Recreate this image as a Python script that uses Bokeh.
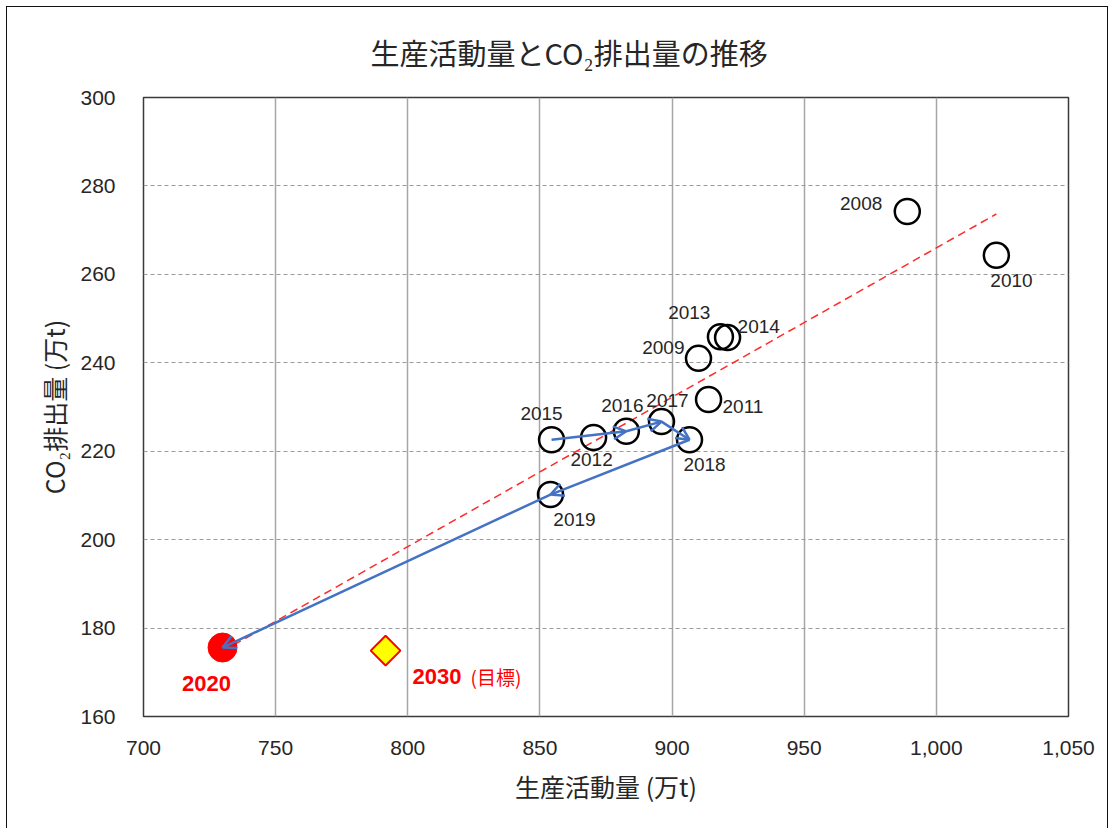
import numpy as np
from bokeh.plotting import figure
from bokeh.models import (ColumnDataSource, Arrow, OpenHead, FixedTicker,
                          NumeralTickFormatter, Range1d)
from bokeh.core.properties import value
from bokeh.embed import file_html
from bokeh.resources import INLINE

# --- data -------------------------------------------------------------
years = ["2008", "2009", "2010", "2011", "2012", "2013",
         "2014", "2015", "2016", "2017", "2018", "2019"]
production = [989.0, 910.0, 1022.7, 913.8, 870.3, 918.3,
              921.0, 854.4, 882.7, 896.0, 906.6, 854.0]       # 万t
emissions = [274.2, 241.0, 264.3, 231.7, 223.1, 245.9,
             245.7, 222.6, 224.5, 226.7, 222.6, 210.2]        # 万t

latest_year = "2020"
latest_production = 729.9
latest_emissions = 175.6

target_year = "2030"
target_note = "(目標)"
target_production = 791.6
target_emissions = 174.9

# sequence traced with arrows
arrow_years = ["2015", "2016", "2017", "2018", "2019", "2020"]

x_ticks = [700, 750, 800, 850, 900, 950, 1000, 1050]
y_ticks = [160, 180, 200, 220, 240, 260, 280, 300]

chart_title = "生産活動量とCO₂排出量の推移"

# --- styling ----------------------------------------------------------
CJK = "Noto Sans CJK JP"
NUM = "Liberation Sans"
TEXT = "#262626"

# label placement around each marker: (dx, dy, align), screen px
label_layout = {
    "2008": (-25, -8, "right"),
    "2009": (-14, -11, "right"),
    "2010": (-6, 25, "left"),
    "2011": (14, 7, "left"),
    "2012": (-2, 22, "center"),
    "2013": (-10, -24, "right"),
    "2014": (10, -11, "left"),
    "2015": (-10, -26, "center"),
    "2016": (-4, -26, "center"),
    "2017": (6, -21, "center"),
    "2018": (15, 25, "center"),
    "2019": (24, 25, "center"),
}

W, H = 1102, 822
OFF_X, OFF_Y = 7, 7
FRAME_L, FRAME_T, FRAME_R, FRAME_B = 143, 97, 1068, 716
p = figure(
    width=W, height=H,
    x_range=Range1d(x_ticks[0], x_ticks[-1]),
    y_range=Range1d(y_ticks[0], y_ticks[-1]),
    output_backend="svg", toolbar_location=None,
    min_border_left=FRAME_L - OFF_X, min_border_right=(W + OFF_X) - FRAME_R,
    min_border_top=FRAME_T - OFF_Y, min_border_bottom=(H + OFF_Y) - FRAME_B,
    background_fill_color="white", border_fill_color="white",
)
p.styles = {"margin-left": "6px", "margin-top": "6px",
            "border-left": "1px solid #111", "border-top": "1px solid #111",
            "border-right": "1px solid #111"}

# title
p.title.text = chart_title
p.title.align = "left"
p.title.offset = 370 - FRAME_L
p.title.vertical_align = "top"
p.title.text_baseline = "top"
p.title.standoff = 46
p.title.text_font = CJK
p.title.text_font_size = "29px"
p.title.text_font_style = "normal"
p.title.text_color = TEXT

# frame and grids
p.outline_line_color = "#3a3a3a"
p.outline_line_width = 1.5
p.xgrid.ticker = FixedTicker(ticks=x_ticks)
p.ygrid.ticker = FixedTicker(ticks=y_ticks)
p.xgrid.grid_line_color = "#a6a6a6"
p.xgrid.grid_line_width = 1.5
p.ygrid.grid_line_color = "#9a9a9a"
p.ygrid.grid_line_width = 1
p.ygrid.grid_line_dash = "4 3"

for ax in (p.xaxis[0], p.yaxis[0]):
    ax.axis_line_color = None
    ax.major_tick_line_color = None
    ax.minor_tick_line_color = None
    ax.major_label_text_font = NUM
    ax.major_label_text_font_size = "21px"
    ax.major_label_text_color = TEXT
    ax.axis_label_text_font = CJK
    ax.axis_label_text_font_size = "25px"
    ax.axis_label_text_font_style = "normal"
    ax.axis_label_text_color = TEXT

p.xaxis.ticker = FixedTicker(ticks=x_ticks)
p.yaxis.ticker = FixedTicker(ticks=y_ticks)
p.xaxis.formatter = NumeralTickFormatter(format="0,0")
p.xaxis.major_label_standoff = 18
p.yaxis.major_label_standoff = 22
p.xaxis.axis_label = "生産活動量 (万t)"
p.yaxis.axis_label = "CO₂排出量 (万t)"
p.xaxis.axis_label_standoff = 10
p.yaxis.axis_label_standoff = 5

# linear trend over all observed years (2008-2020)
all_x = np.array(production + [latest_production])
all_y = np.array(emissions + [latest_emissions])
slope, intercept = np.polyfit(all_x, all_y, 1)
tx = np.array([all_x.min(), all_x.max()])
p.line(tx, slope * tx + intercept, line_color="#ff2a2a",
       line_width=1.5, line_dash="8 5")

# yearly markers
src = ColumnDataSource(dict(
    x=production, y=emissions, year=years,
    dx=[label_layout[y][0] for y in years],
    dy=[label_layout[y][1] for y in years],
    align=[label_layout[y][2] for y in years],
))
p.scatter("x", "y", source=src, size=25, fill_color=None,
          line_color="black", line_width=2.5)
p.text("x", "y", text="year", source=src, x_offset="dx", y_offset="dy",
       text_align="align", text_baseline="middle",
       text_font=value(NUM), text_font_size="19px", text_color=TEXT)

# year-to-year arrows
lookup = dict(zip(years + [latest_year],
                  zip(production + [latest_production],
                      emissions + [latest_emissions])))
arr = ColumnDataSource(dict(
    x0=[lookup[a][0] for a in arrow_years[:-1]],
    y0=[lookup[a][1] for a in arrow_years[:-1]],
    x1=[lookup[a][0] for a in arrow_years[1:]],
    y1=[lookup[a][1] for a in arrow_years[1:]],
))
p.add_layout(Arrow(
    source=arr, x_start="x0", y_start="y0", x_end="x1", y_end="y1",
    line_color="#4472c4", line_width=2.5,
    end=OpenHead(size=13, line_color="#4472c4", line_width=2.5),
))

# 2020 actual
p.scatter([latest_production], [latest_emissions], size=29,
          fill_color="#ff0000", line_color="#ff0000")
p.text([latest_production], [latest_emissions], text=[latest_year],
       x_offset=-16, y_offset=36, text_align="center", text_baseline="middle",
       text_font=value(NUM), text_font_size="22px", text_font_style="bold",
       text_color="#ff0000")

# 2030 target
p.scatter([target_production], [target_emissions], marker="square",
          angle=np.pi / 4, size=21, fill_color="#ffff00",
          line_color="#ff0000", line_width=2)
p.text([target_production], [target_emissions], text=[target_year],
       x_offset=27, y_offset=26, text_align="left", text_baseline="middle",
       text_font=value(NUM), text_font_size="22px", text_font_style="bold",
       text_color="#ff0000")
p.text([target_production], [target_emissions], text=[target_note],
       x_offset=85, y_offset=26, text_align="left", text_baseline="middle",
       text_font=value(CJK), text_font_size="19px", text_color="#ff0000")

open("out.html", "w").write(file_html(p, INLINE))
